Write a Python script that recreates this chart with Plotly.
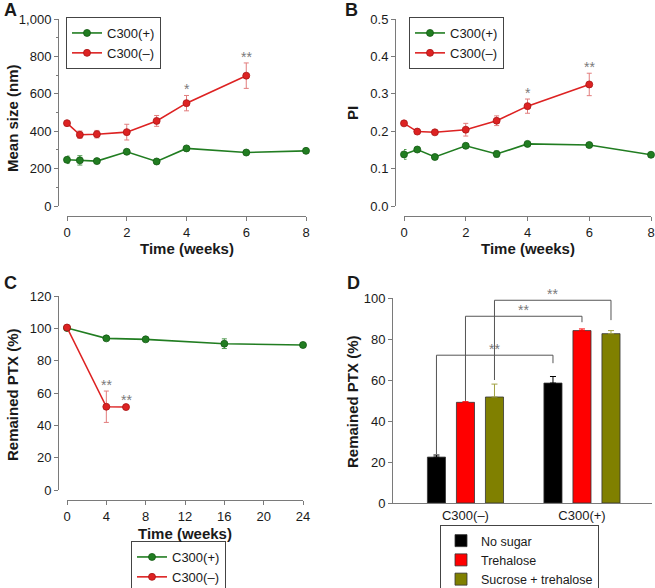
import plotly.graph_objects as go

W, H = 655, 588
FONT = "Liberation Sans, Arial, sans-serif"

# ---------------- data ----------------
# Panel A: mean size (nm)
a_x_plus = [0, 0.43, 1, 2, 3, 4, 6, 8]
a_y_plus = [247, 244, 240, 290, 238, 308, 286, 295]
a_e_plus = [20, 25, 8, 10, 8, 8, 8, 12]
a_x_minus = [0, 0.43, 1, 2, 3, 4, 6]
a_y_minus = [443, 381, 384, 395, 455, 550, 697]
a_e_minus = [8, 20, 20, 42, 29, 41, 68]
a_sig_minus = ["", "", "", "", "", "*", "**"]

# Panel B: PI
b_x_plus = [0, 0.43, 1, 2, 3, 4, 6, 8]
b_y_plus = [0.138, 0.151, 0.131, 0.161, 0.139, 0.166, 0.163, 0.137]
b_e_plus = [0.013, 0.005, 0.005, 0.006, 0.008, 0.005, 0.006, 0.005]
b_x_minus = [0, 0.43, 1, 2, 3, 4, 6]
b_y_minus = [0.221, 0.199, 0.197, 0.204, 0.228, 0.267, 0.325]
b_e_minus = [0.004, 0.005, 0.004, 0.017, 0.013, 0.019, 0.030]
b_sig_minus = ["", "", "", "", "", "*", "**"]

# Panel C: remained PTX (%)
c_x_plus = [0, 4, 8, 16, 24]
c_y_plus = [100.2, 93.8, 93.2, 90.5, 89.7]
c_e_plus = [0.8, 1.2, 1.0, 3.0, 1.5]
c_x_minus = [0, 4, 6]
c_y_minus = [100.5, 51.5, 51.3]
c_e_minus = [0.8, 9.7, 0.5]
c_sig_minus = ["", "**", "**"]

# Panel D: remained PTX (%) bars
d_groups = ["C300(\u2013)", "C300(+)"]
d_series = ["No sugar", "Trehalose", "Sucrose + trehalose"]
d_vals = [[22.4, 58.5], [49.1, 84.1], [51.7, 82.6]]
d_errs = [[1.0, 3.2], [0.3, 0.8], [6.3, 1.5]]
# brackets: (group L, series L, group R, series R, top, left leg bottom, right leg bottom)
d_brackets = [
    (0, 0, 1, 0, 72.1, 23.8, 68.2),
    (0, 1, 1, 1, 91.1, 49.8, 88.2),
    (0, 2, 1, 2, 98.9, 60.0, 89.2),
]

names = ["C300(+)", "C300(\u2013)"]

# ---------------- style ----------------
GREEN = "#217d21"
GREEN_D = "#145a14"
GREEN_E = "#4f9a4f"
RED = "#dd2222"
RED_D = "#a81515"
RED_E = "#e27d7d"
AXC = "#7a7a7a"
TXT = "#1a1a1a"
STAR = "#7a7a7a"
BAR_COLORS = ["#000000", "#ff0000", "#808000"]


def px_x(p):
    return p / W


def px_y(p):
    return 1 - p / H


fig = go.Figure()


def line_trace(x, y, e, name, col, cold, cole, xa, ya, legend, show):
    return go.Scatter(
        x=x, y=y, name=name, mode="lines+markers",
        line=dict(color=col, width=1.6),
        marker=dict(color=col, size=7, line=dict(color=cold, width=0.8)),
        error_y=dict(type="data", array=e, color=cole, thickness=1, width=2.5),
        xaxis=xa, yaxis=ya, legend=legend, showlegend=show, cliponaxis=False,
    )


panels = [
    ("x", "y", "legend", a_x_plus, a_y_plus, a_e_plus, a_x_minus, a_y_minus, a_e_minus, a_sig_minus),
    ("x2", "y2", "legend2", b_x_plus, b_y_plus, b_e_plus, b_x_minus, b_y_minus, b_e_minus, b_sig_minus),
    ("x3", "y3", "legend3", c_x_plus, c_y_plus, c_e_plus, c_x_minus, c_y_minus, c_e_minus, c_sig_minus),
]

annotations = []
for xa, ya, lg, xp, yp, ep, xm, ym, em, sig in panels:
    fig.add_trace(line_trace(xp, yp, ep, names[0], GREEN, GREEN_D, GREEN_E, xa, ya, lg, True))
    fig.add_trace(line_trace(xm, ym, em, names[1], RED, RED_D, RED_E, xa, ya, lg, True))
    for xi, yi, ei, s in zip(xm, ym, em, sig):
        if s:
            annotations.append(dict(
                x=xi, y=yi + ei, xref=xa, yref=ya, text=s, showarrow=False,
                yanchor="bottom", yshift=-4, font=dict(size=14, color=STAR, family=FONT)))

# bars
for i, s in enumerate(d_series):
    fig.add_trace(go.Bar(
        x=d_groups, y=d_vals[i], name=s,
        marker=dict(color=BAR_COLORS[i], line=dict(color="#333333", width=0.8)),
        error_y=dict(type="data", symmetric=False, array=d_errs[i],
                     arrayminus=[0] * len(d_errs[i]),
                     color=BAR_COLORS[i] if i != 2 else "#a0a040", thickness=1, width=3),
        xaxis="x4", yaxis="y4", legend="legend4",
    ))

BARGAP = 0.253
slot = (1 - BARGAP) / len(d_series)


def bar_center(g, s):
    return g + (s - (len(d_series) - 1) / 2) * slot


shapes = []
for gl, sl, gr, sr, top, lb, rb in d_brackets:
    xl = bar_center(gl, sl)
    xr = bar_center(gr, sr)
    ln = dict(color="#555555", width=1)
    shapes.append(dict(type="line", xref="x4", yref="y4", x0=xl, x1=xr, y0=top, y1=top, line=ln))
    shapes.append(dict(type="line", xref="x4", yref="y4", x0=xl, x1=xl, y0=lb, y1=top, line=ln))
    shapes.append(dict(type="line", xref="x4", yref="y4", x0=xr, x1=xr, y0=rb, y1=top, line=ln))
    annotations.append(dict(x=(xl + xr) / 2, y=top, xref="x4", yref="y4", text="**",
                            showarrow=False, yanchor="bottom", yshift=-4,
                            font=dict(size=14, color=STAR, family=FONT)))

# axis titles & panel letters (paper positions)
def ptext(x, y, t, size, bold=True, angle=0):
    annotations.append(dict(x=px_x(x), y=px_y(y), xref="paper", yref="paper",
                            text=f"<b>{t}</b>" if bold else t, showarrow=False,
                            textangle=angle, xanchor="center", yanchor="middle",
                            font=dict(size=size, color=TXT, family=FONT)))


ptext(187, 248, "Time (weeks)", 15)
ptext(528, 248, "Time (weeks)", 15)
ptext(185, 533, "Time (weeks)", 15)
ptext(12, 118, "Mean size (nm)", 15, angle=-90)
ptext(352, 113, "PI", 15, angle=-90)
ptext(12, 395, "Remained PTX (%)", 15, angle=-90)
ptext(352, 402, "Remained PTX (%)", 15, angle=-90)
ptext(10, 10, "A", 18)
ptext(351, 10, "B", 18)
ptext(10, 283, "C", 18)
ptext(353, 283, "D", 18)

tickfont = dict(size=13, color=TXT, family=FONT)


def xax(dom, pos, rng, dtick):
    return dict(domain=[px_x(dom[0]), px_x(dom[1])], anchor="free", position=px_y(pos),
                range=rng, dtick=dtick, tick0=0, showline=True, linecolor=AXC, linewidth=1,
                ticks="outside", ticklen=4, tickcolor=AXC, showgrid=False, zeroline=False,
                tickfont=tickfont, fixedrange=True)


def yax(dom, pos, rng, dtick, fmt=None, minor=None):
    d = dict(domain=[px_y(dom[1]), px_y(dom[0])], anchor="free", position=px_x(pos),
             range=rng, dtick=dtick, tick0=0, showline=True, linecolor=AXC, linewidth=1,
             ticks="outside", ticklen=4, tickcolor=AXC, showgrid=False, zeroline=False,
             tickfont=tickfont, fixedrange=True)
    if fmt:
        d["tickformat"] = fmt
    if minor:
        d["minor"] = dict(ticks="outside", ticklen=2, tickcolor=AXC, dtick=minor, showgrid=False)
    return d


legbase = dict(bgcolor="white", bordercolor="#444444", borderwidth=1,
               font=dict(size=13, color=TXT, family=FONT), xanchor="left", yanchor="top",
               tracegroupgap=0, itemclick=False)

fig.update_layout(
    width=W, height=H, margin=dict(l=0, r=0, t=0, b=0, autoexpand=False),
    paper_bgcolor="white", plot_bgcolor="white",
    font=dict(family=FONT, color=TXT),
    barmode="group", bargap=BARGAP, bargroupgap=0.377,
    xaxis=xax((67, 306), 216, [0, 8], 2),
    yaxis=yax((19, 206), 58, [0, 1000], 200, fmt=",", minor=100),
    xaxis2=xax((404, 651), 216, [0, 8], 2),
    yaxis2=yax((19, 206), 395, [0, 0.5], 0.1, fmt=".1f"),
    xaxis3=xax((67, 303), 500, [0, 24], 4),
    yaxis3=yax((296, 490), 58, [0, 120], 20),
    xaxis4=dict(domain=[px_x(393), px_x(652)], anchor="y4", type="category",
                range=[-0.622, 1.601], showline=True, linecolor=AXC, linewidth=1,
                ticks="", showgrid=False, tickfont=tickfont, fixedrange=True),
    yaxis4=dict(domain=[px_y(503), px_y(298)], anchor="x4", range=[0, 100], dtick=20,
                showline=True, linecolor=AXC, linewidth=1, ticks="outside", ticklen=4,
                tickcolor=AXC, showgrid=False, zeroline=False, tickfont=tickfont,
                fixedrange=True),
    legend=dict(legbase, x=px_x(66), y=px_y(17)),
    legend2=dict(legbase, x=px_x(409), y=px_y(17)),
    legend3=dict(legbase, x=px_x(131), y=px_y(541)),
    legend4=dict(legbase, x=px_x(440), y=px_y(525), entrywidth=165, entrywidthmode="pixels",
                 font=dict(size=12.5, color=TXT, family=FONT)),
    annotations=annotations,
    shapes=shapes,
)

fig.write_html("out.html", post_script="document.body.style.margin='0';",
               config={"displayModeBar": False, "staticPlot": True})
